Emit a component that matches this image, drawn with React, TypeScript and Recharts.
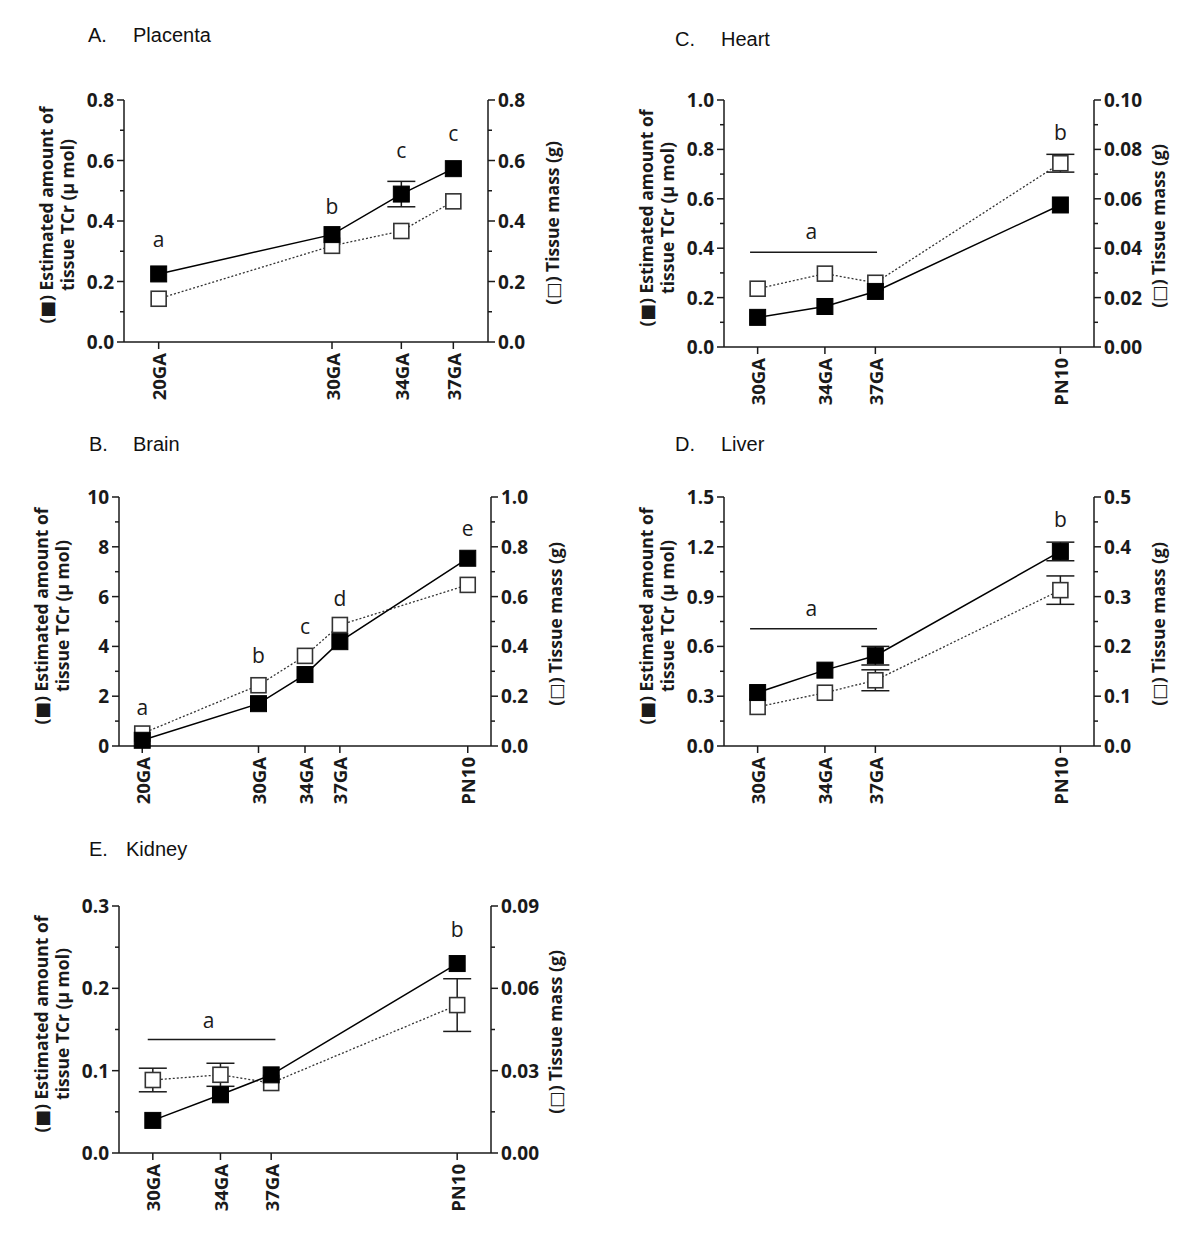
import React from 'react';
import { LineChart, Line, XAxis, YAxis, ErrorBar, ReferenceDot, ReferenceLine } from 'recharts';

const FONT = '"Open Sans", "DejaVu Sans", sans-serif';
const TITLE_FONT = '"Liberation Sans", Arial, sans-serif';
const INK = '#1a1a1a';

// ---------- A. Placenta ----------
const placentaWeeks = [20, 30, 34, 37];
const placentaLabels = ['20GA', '30GA', '34GA', '37GA'];
const placentaTCr = [0.225, 0.355, 0.489, 0.573];
const placentaTCrErr = [null, null, 0.042, null];
const placentaMass = [0.143, 0.318, 0.367, 0.465];
const placentaMassErr = [null, null, null, null];
const placentaLeftTicks = [0, 0.1, 0.2, 0.3, 0.4, 0.5, 0.6, 0.7, 0.8];
const placentaLeftTickLabels = ['0.0', '', '0.2', '', '0.4', '', '0.6', '', '0.8'];
const placentaRightTicks = [0, 0.1, 0.2, 0.3, 0.4, 0.5, 0.6, 0.7, 0.8];
const placentaRightTickLabels = ['0.0', '', '0.2', '', '0.4', '', '0.6', '', '0.8'];
const placentaLetters = ['a', 'b', 'c', 'c'];
const placentaLetterX = [20, 30, 34, 37];
const placentaLetterY = [0.342, 0.448, 0.634, 0.69];

// ---------- B. Brain ----------
const brainWeeks = [20, 30, 34, 37, 48];
const brainLabels = ['20GA', '30GA', '34GA', '37GA', 'PN10'];
const brainTCr = [0.23, 1.7, 2.87, 4.19, 7.54];
const brainTCrErr = [null, null, null, null, null];
const brainMass = [0.05, 0.244, 0.362, 0.486, 0.647];
const brainMassErr = [null, null, null, null, null];
const brainLeftTicks = [0, 1, 2, 3, 4, 5, 6, 7, 8, 9, 10];
const brainLeftTickLabels = ['0', '', '2', '', '4', '', '6', '', '8', '', '10'];
const brainRightTicks = [0, 0.1, 0.2, 0.3, 0.4, 0.5, 0.6, 0.7, 0.8, 0.9, 1.0];
const brainRightTickLabels = ['0.0', '', '0.2', '', '0.4', '', '0.6', '', '0.8', '', '1.0'];
const brainLetters = ['a', 'b', 'c', 'd', 'e'];
const brainLetterX = [20, 30, 34, 37, 48];
const brainLetterY = [1.57, 3.65, 4.8, 5.93, 8.75];

// ---------- C. Heart ----------
const heartWeeks = [30, 34, 37, 48];
const heartLabels = ['30GA', '34GA', '37GA', 'PN10'];
const heartTCr = [0.12, 0.164, 0.225, 0.575];
const heartTCrErr = [null, null, null, null];
const heartMass = [0.0236, 0.0297, 0.026, 0.0744];
const heartMassErr = [null, null, null, 0.0036];
const heartLeftTicks = [0, 0.1, 0.2, 0.3, 0.4, 0.5, 0.6, 0.7, 0.8, 0.9, 1.0];
const heartLeftTickLabels = ['0.0', '', '0.2', '', '0.4', '', '0.6', '', '0.8', '', '1.0'];
const heartRightTicks = [0, 0.01, 0.02, 0.03, 0.04, 0.05, 0.06, 0.07, 0.08, 0.09, 0.1];
const heartRightTickLabels = ['0.00', '', '0.02', '', '0.04', '', '0.06', '', '0.08', '', '0.10'];
const heartLetters = ['a', 'b'];
const heartLetterX = [33.2, 48];
const heartLetterY = [0.468, 0.872];
const heartBracket = { from: 29.55, to: 37.1, level: 0.384 };

// ---------- D. Liver ----------
const liverWeeks = [30, 34, 37, 48];
const liverLabels = ['30GA', '34GA', '37GA', 'PN10'];
const liverTCr = [0.322, 0.457, 0.544, 1.172];
const liverTCrErr = [null, null, 0.056, 0.056];
const liverMass = [0.0785, 0.107, 0.132, 0.313];
const liverMassErr = [null, null, 0.021, 0.0285];
const liverLeftTicks = [0, 0.15, 0.3, 0.45, 0.6, 0.75, 0.9, 1.05, 1.2, 1.35, 1.5];
const liverLeftTickLabels = ['0.0', '', '0.3', '', '0.6', '', '0.9', '', '1.2', '', '1.5'];
const liverRightTicks = [0, 0.05, 0.1, 0.15, 0.2, 0.25, 0.3, 0.35, 0.4, 0.45, 0.5];
const liverRightTickLabels = ['0.0', '', '0.1', '', '0.2', '', '0.3', '', '0.4', '', '0.5'];
const liverLetters = ['a', 'b'];
const liverLetterX = [33.2, 48];
const liverLetterY = [0.83, 1.367];
const liverBracket = { from: 29.55, to: 37.1, level: 0.707 };

// ---------- E. Kidney ----------
const kidneyWeeks = [30, 34, 37, 48];
const kidneyLabels = ['30GA', '34GA', '37GA', 'PN10'];
const kidneyTCr = [0.0396, 0.0707, 0.0949, 0.2301];
const kidneyTCrErr = [null, null, null, null];
const kidneyMass = [0.0266, 0.0285, 0.0255, 0.0539];
const kidneyMassErr = [0.0043, 0.0042, null, 0.0096];
const kidneyLeftTicks = [0, 0.05, 0.1, 0.15, 0.2, 0.25, 0.3];
const kidneyLeftTickLabels = ['0.0', '', '0.1', '', '0.2', '', '0.3'];
const kidneyRightTicks = [0, 0.015, 0.03, 0.045, 0.06, 0.075, 0.09];
const kidneyRightTickLabels = ['0.00', '', '0.03', '', '0.06', '', '0.09'];
const kidneyLetters = ['a', 'b'];
const kidneyLetterX = [33.3, 48];
const kidneyLetterY = [0.162, 0.272];
const kidneyBracket = { from: 29.7, to: 37.25, level: 0.138 };

const leftAxisLines = ['(\u25A0) Estimated amount of', 'tissue TCr (\u03BC mol)'];
const rightAxisText = '(\u25A1) Tissue mass (g)';

const TICK_SIZE = 7;
const TICK_MARGIN = 3;

function buildRows(weeks: number[], tcr: number[], tcrErr: any[], mass: number[], massErr: any[]) {
  return weeks.map((w, i) => ({ week: w, tcr: tcr[i], tcrErr: tcrErr[i], mass: mass[i], massErr: massErr[i] }));
}

const YTick = (props: any) => {
  const { x, y, index, labels, side } = props;
  const label = labels[index] ?? '';
  const major = label !== '';
  const axisX = side === 'left' ? x + TICK_SIZE + TICK_MARGIN : x - TICK_SIZE - TICK_MARGIN;
  const len = major ? 7 : 4;
  const x2 = side === 'left' ? axisX - len : axisX + len;
  return (
    <g>
      <line x1={axisX} y1={y} x2={x2} y2={y} stroke={INK} strokeWidth={1.5} />
      {major && (
        <text x={x} y={y} textAnchor={side === 'left' ? 'end' : 'start'} dominantBaseline="central"
          fontFamily={FONT} fontWeight={700} fontSize={19} fill={INK}>{label}</text>
      )}
    </g>
  );
};

const XTick = (props: any) => {
  const { x, y, index, labels } = props;
  return (
    <text x={x} y={y} transform={`rotate(-90 ${x} ${y})`} textAnchor="end" dominantBaseline="central"
      fontFamily={FONT} fontWeight={700} fontSize={18.5} fill={INK}>{labels[index]}</text>
  );
};

const filledDot = (p: any) => (
  <rect key={`f${p.index}`} x={p.cx - 8} y={p.cy - 8} width={16} height={16} fill="#000" stroke="#000" strokeWidth={1} />
);
const openDot = (p: any) => (
  <rect key={`o${p.index}`} x={p.cx - 7.5} y={p.cy - 7.5} width={15} height={15} fill="#fff" stroke="#333" strokeWidth={1.6} />
);

function VLabel({ cx, cy, lines }: { cx: number; cy: number; lines: string[] }) {
  return (
    <div style={{
      position: 'absolute', left: cx, top: cy, transform: 'translate(-50%, -50%) rotate(-90deg)',
      whiteSpace: 'nowrap', textAlign: 'center', fontFamily: FONT, fontWeight: 700, fontSize: 17.5,
      lineHeight: '21px', color: INK,
    }}>
      {lines.map((l, i) => <div key={i}>{l}</div>)}
    </div>
  );
}

function Title({ left, nameLeft, baseline, tag, name }: any) {
  const st: React.CSSProperties = { position: 'absolute', top: baseline - 17, fontFamily: TITLE_FONT, fontSize: 20, lineHeight: '20px', color: '#111', whiteSpace: 'nowrap' };
  return (
    <>
      <div style={{ ...st, left }}>{tag}</div>
      <div style={{ ...st, left: nameLeft }}>{name}</div>
    </>
  );
}

type PanelProps = {
  left: number; top: number; plotLeft: number; plotRight: number; plotTop: number; plotBottom: number;
  xDomain: [number, number]; weeks: number[]; xLabels: string[];
  rows: any[];
  leftDomain: [number, number]; leftTicks: number[]; leftTickLabels: string[];
  rightDomain: [number, number]; rightTicks: number[]; rightTickLabels: string[];
  letters: string[]; letterX: number[]; letterY: number[];
  bracket?: { from: number; to: number; level: number };
};

function Panel(p: PanelProps) {
  const width = 600;
  const marginTop = p.plotTop - p.top;
  const xAxisH = 78;
  const height = marginTop + (p.plotBottom - p.plotTop) + xAxisH;
  const leftW = p.plotLeft - p.left;
  const rightW = p.left + width - p.plotRight;
  const midY = (p.plotTop + p.plotBottom) / 2;
  return (
    <>
      <div style={{ position: 'absolute', left: p.left, top: p.top }}>
        <LineChart width={width} height={height} data={p.rows} margin={{ top: marginTop, right: 0, bottom: 0, left: 0 }}>
          <XAxis type="number" dataKey="week" domain={p.xDomain} ticks={p.weeks} interval={0}
            tick={<XTick labels={p.xLabels} />} tickSize={TICK_SIZE} tickMargin={4} height={xAxisH}
            axisLine={{ stroke: INK, strokeWidth: 1.5 }} tickLine={{ stroke: INK, strokeWidth: 1.5 }} />
          <YAxis yAxisId="left" orientation="left" width={leftW} domain={p.leftDomain} ticks={p.leftTicks} interval={0}
            tick={<YTick labels={p.leftTickLabels} side="left" />} tickLine={false} tickSize={TICK_SIZE} tickMargin={TICK_MARGIN}
            axisLine={{ stroke: INK, strokeWidth: 1.5 }} />
          <YAxis yAxisId="right" orientation="right" width={rightW} domain={p.rightDomain} ticks={p.rightTicks} interval={0}
            tick={<YTick labels={p.rightTickLabels} side="right" />} tickLine={false} tickSize={TICK_SIZE} tickMargin={TICK_MARGIN}
            axisLine={{ stroke: INK, strokeWidth: 1.5 }} />
          {p.bracket && (
            <ReferenceLine yAxisId="left" stroke={INK} strokeWidth={1.5}
              segment={[{ x: p.bracket.from, y: p.bracket.level }, { x: p.bracket.to, y: p.bracket.level }]} />
          )}
          <Line yAxisId="right" type="linear" dataKey="mass" stroke="#333" strokeWidth={1.3} strokeDasharray="2 2"
            dot={openDot} activeDot={false} isAnimationActive={false}>
            <ErrorBar dataKey="massErr" direction="y" width={14} stroke={INK} strokeWidth={1.5} />
          </Line>
          <Line yAxisId="left" type="linear" dataKey="tcr" stroke="#000" strokeWidth={1.5}
            dot={filledDot} activeDot={false} isAnimationActive={false}>
            <ErrorBar dataKey="tcrErr" direction="y" width={14} stroke={INK} strokeWidth={1.5} />
          </Line>
          {p.letters.map((t, i) => (
            <ReferenceDot key={`l${i}`} yAxisId="left" x={p.letterX[i]} y={p.letterY[i]} r={0} ifOverflow="visible"
              shape={(sp: any) => (
                <text x={sp.cx} y={sp.cy} textAnchor="middle" dominantBaseline="central" fontFamily={FONT}
                  fontSize={21} fill={INK}>{t}</text>
              )} />
          ))}
        </LineChart>
      </div>
      <VLabel cx={p.plotLeft - 67} cy={midY - 6} lines={leftAxisLines} />
      <VLabel cx={p.plotRight + 64} cy={midY + 2} lines={[rightAxisText]} />
    </>
  );
}

export default function App() {
  return (
    <div style={{ position: 'absolute', left: 0, top: 0, width: 1200, height: 1235, background: '#fff', overflow: 'hidden' }}>
      <Title left={88} nameLeft={133} baseline={42} tag="A." name="Placenta" />
      <Title left={675} nameLeft={721} baseline={46} tag="C." name="Heart" />
      <Title left={89} nameLeft={133} baseline={451} tag="B." name="Brain" />
      <Title left={675} nameLeft={721} baseline={451} tag="D." name="Liver" />
      <Title left={89} nameLeft={126} baseline={856} tag="E." name="Kidney" />

      <Panel left={0} top={80} plotLeft={124} plotRight={488} plotTop={100} plotBottom={342}
        xDomain={[18, 39]} weeks={placentaWeeks} xLabels={placentaLabels}
        rows={buildRows(placentaWeeks, placentaTCr, placentaTCrErr, placentaMass, placentaMassErr)}
        leftDomain={[0, 0.8]} leftTicks={placentaLeftTicks} leftTickLabels={placentaLeftTickLabels}
        rightDomain={[0, 0.8]} rightTicks={placentaRightTicks} rightTickLabels={placentaRightTickLabels}
        letters={placentaLetters} letterX={placentaLetterX} letterY={placentaLetterY} />

      <Panel left={600} top={80} plotLeft={724} plotRight={1094} plotTop={100} plotBottom={347}
        xDomain={[28, 50]} weeks={heartWeeks} xLabels={heartLabels}
        rows={buildRows(heartWeeks, heartTCr, heartTCrErr, heartMass, heartMassErr)}
        leftDomain={[0, 1]} leftTicks={heartLeftTicks} leftTickLabels={heartLeftTickLabels}
        rightDomain={[0, 0.1]} rightTicks={heartRightTicks} rightTickLabels={heartRightTickLabels}
        letters={heartLetters} letterX={heartLetterX} letterY={heartLetterY} bracket={heartBracket} />

      <Panel left={0} top={477} plotLeft={119} plotRight={491} plotTop={497} plotBottom={746}
        xDomain={[18, 50]} weeks={brainWeeks} xLabels={brainLabels}
        rows={buildRows(brainWeeks, brainTCr, brainTCrErr, brainMass, brainMassErr)}
        leftDomain={[0, 10]} leftTicks={brainLeftTicks} leftTickLabels={brainLeftTickLabels}
        rightDomain={[0, 1]} rightTicks={brainRightTicks} rightTickLabels={brainRightTickLabels}
        letters={brainLetters} letterX={brainLetterX} letterY={brainLetterY} />

      <Panel left={600} top={477} plotLeft={724} plotRight={1094} plotTop={497} plotBottom={746}
        xDomain={[28, 50]} weeks={liverWeeks} xLabels={liverLabels}
        rows={buildRows(liverWeeks, liverTCr, liverTCrErr, liverMass, liverMassErr)}
        leftDomain={[0, 1.5]} leftTicks={liverLeftTicks} leftTickLabels={liverLeftTickLabels}
        rightDomain={[0, 0.5]} rightTicks={liverRightTicks} rightTickLabels={liverRightTickLabels}
        letters={liverLetters} letterX={liverLetterX} letterY={liverLetterY} bracket={liverBracket} />

      <Panel left={0} top={886} plotLeft={119} plotRight={491} plotTop={906} plotBottom={1153}
        xDomain={[28, 50]} weeks={kidneyWeeks} xLabels={kidneyLabels}
        rows={buildRows(kidneyWeeks, kidneyTCr, kidneyTCrErr, kidneyMass, kidneyMassErr)}
        leftDomain={[0, 0.3]} leftTicks={kidneyLeftTicks} leftTickLabels={kidneyLeftTickLabels}
        rightDomain={[0, 0.09]} rightTicks={kidneyRightTicks} rightTickLabels={kidneyRightTickLabels}
        letters={kidneyLetters} letterX={kidneyLetterX} letterY={kidneyLetterY} bracket={kidneyBracket} />
    </div>
  );
}
